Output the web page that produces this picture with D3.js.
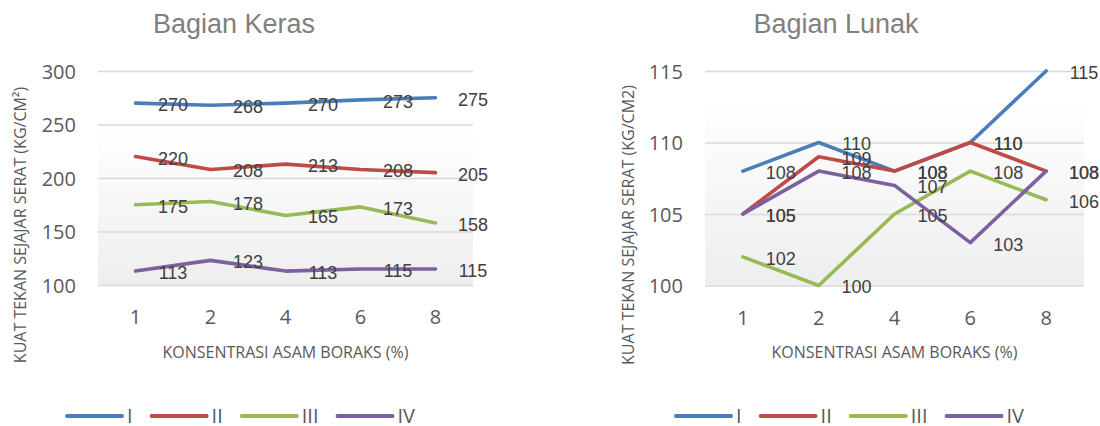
<!DOCTYPE html>
<html>
<head>
<meta charset="utf-8">
<script src="https://cdn.jsdelivr.net/npm/d3@7"></script>
<style>
  html, body { margin: 0; padding: 0; background: #ffffff; }
  svg { display: block; }
</style>
</head>
<body>
<svg id="chart" width="1100" height="426"></svg>
<script>
// Concentration of boric acid (%) on the category axis
const categories = ["1", "2", "4", "6", "8"];
const seriesNames = ["I", "II", "III", "IV"];

// Bagian Keras: compressive strength parallel to grain (kg/cm²)
const kerasI   = [270, 268, 270, 273, 275];
const kerasII  = [220, 208, 213, 208, 205];
const kerasIII = [175, 178, 165, 173, 158];
const kerasIV  = [113, 123, 113, 115, 115];
const kerasTicks = [100, 150, 200, 250, 300];

// Bagian Lunak: compressive strength parallel to grain (kg/cm2)
const lunakI   = [108, 110, 108, 110, 115];
const lunakII  = [105, 109, 108, 110, 108];
const lunakIII = [102, 100, 105, 108, 106];
const lunakIV  = [105, 108, 107, 103, 108];
const lunakTicks = [100, 105, 110, 115];

const colors = ["#4a7ebb", "#be4b48", "#98b954", "#7d60a0"];

const svg = d3.select("#chart");
const defs = svg.append("defs");

const panels = [
  {
    id: "keras",
    title: "Bagian Keras", titleX: 234,
    series: [kerasI, kerasII, kerasIII, kerasIV],
    ticks: kerasTicks, domain: [100, 300],
    plot: { x0: 98, x1: 473, y0: 71, y1: 285 },
    whiteStop: 0.25,
    yTitle: "KUAT TEKAN SEJAJAR SERAT (KG/CM²)", yTitleX: 20,
    legendX: 67
  },
  {
    id: "lunak",
    title: "Bagian Lunak", titleX: 836,
    series: [lunakI, lunakII, lunakIII, lunakIV],
    ticks: lunakTicks, domain: [100, 115],
    plot: { x0: 705, x1: 1084, y0: 71, y1: 285.5 },
    whiteStop: 0.13,
    yTitle: "KUAT TEKAN SEJAJAR SERAT (KG/CM2)", yTitleX: 628,
    legendX: 676
  }
];

panels.forEach(p => {
  const { x0, x1, y0, y1 } = p.plot;

  const x = d3.scaleBand().domain(categories).range([x0, x1]);
  const cx = c => x(c) + x.bandwidth() / 2;
  const y = d3.scaleLinear().domain(p.domain).range([y1, y0]);

  const g = svg.append("g");

  // plot area fill: white fading into light grey
  const grad = defs.append("linearGradient")
    .attr("id", "bg-" + p.id)
    .attr("x1", 0).attr("y1", 0).attr("x2", 0).attr("y2", 1);
  grad.append("stop").attr("offset", 0).attr("stop-color", "#ffffff");
  grad.append("stop").attr("offset", p.whiteStop).attr("stop-color", "#ffffff");
  grad.append("stop").attr("offset", 1).attr("stop-color", "#eeeeee");
  g.append("rect")
    .attr("x", x0).attr("y", y0)
    .attr("width", x1 - x0).attr("height", y1 - y0)
    .attr("fill", `url(#bg-${p.id})`);

  // horizontal gridlines
  const grid = g.append("g")
    .attr("transform", `translate(${x0},0)`)
    .call(d3.axisLeft(y).tickValues(p.ticks).tickSize(-(x1 - x0)).tickFormat(""));
  grid.select(".domain").remove();
  grid.selectAll("line").attr("stroke", "#d9d9d9").attr("stroke-width", 1.5);

  // y tick labels
  const yAxis = g.append("g")
    .attr("transform", `translate(${x0 - 22},0)`)
    .call(d3.axisLeft(y).tickValues(p.ticks).tickSize(0).tickPadding(0).tickFormat(d3.format("d")));
  yAxis.select(".domain").remove();
  yAxis.selectAll("text")
    .attr("font-family", "'Open Sans', sans-serif")
    .attr("font-size", 20)
    .attr("fill", "#595959")
    .attr("dy", "0.36em");

  // x tick labels
  const xAxis = g.append("g")
    .attr("transform", `translate(0,${y1})`)
    .call(d3.axisBottom(x).tickSize(0).tickPadding(0));
  xAxis.select(".domain").remove();
  xAxis.selectAll("text")
    .attr("font-family", "'Open Sans', sans-serif")
    .attr("font-size", 20)
    .attr("fill", "#595959")
    .attr("y", 39)
    .attr("dy", 0);

  // lines
  const line = d3.line().x((d, i) => cx(categories[i])).y(d => y(d));
  p.series.forEach((vals, si) => {
    g.append("path")
      .datum(vals)
      .attr("d", line)
      .attr("fill", "none")
      .attr("stroke", colors[si])
      .attr("stroke-width", 3.6)
      .attr("stroke-linejoin", "round")
      .attr("stroke-linecap", "round");
  });

  // data labels, placed on the right edge of each category band
  p.series.forEach(vals => {
    g.selectAll(null)
      .data(vals)
      .enter().append("text")
      .attr("x", (d, i) => x(categories[i]) + x.bandwidth())
      .attr("y", d => y(d) + 1.5)
      .attr("dy", "0.36em")
      .attr("text-anchor", "middle")
      .attr("font-family", "'Liberation Sans', Arial, sans-serif")
      .attr("font-size", 18)
      .attr("fill", "#404040")
      .text(d => d);
  });

  // chart title
  g.append("text")
    .attr("x", p.titleX).attr("y", 33)
    .attr("text-anchor", "middle")
    .attr("font-family", "'Liberation Sans', Arial, sans-serif")
    .attr("font-size", 27)
    .attr("fill", "#808080")
    .text(p.title);

  // axis titles
  g.append("text")
    .attr("x", (x0 + x1) / 2).attr("y", 358)
    .attr("text-anchor", "middle")
    .attr("font-family", "'Open Sans', sans-serif")
    .attr("font-size", 16)
    .attr("fill", "#595959")
    .text("KONSENTRASI ASAM BORAKS (%)");

  g.append("text")
    .attr("transform", `translate(${p.yTitleX},225) rotate(-90)`)
    .attr("text-anchor", "middle")
    .attr("dy", "0.36em")
    .attr("font-family", "'Open Sans', sans-serif")
    .attr("font-size", 16)
    .attr("fill", "#595959")
    .text(p.yTitle);

  // legend
  let lx = p.legendX;
  seriesNames.forEach((name, si) => {
    g.append("line")
      .attr("x1", lx).attr("x2", lx + 55)
      .attr("y1", 416).attr("y2", 416)
      .attr("stroke", colors[si])
      .attr("stroke-width", 4)
      .attr("stroke-linecap", "round");
    const t = g.append("text")
      .attr("x", lx + 60).attr("y", 423)
      .attr("font-family", "'Open Sans', sans-serif")
      .attr("font-size", 20)
      .attr("fill", "#595959")
      .text(name);
    lx = lx + 60 + t.node().getComputedTextLength() + 19;
  });
});
</script>
</body>
</html>
